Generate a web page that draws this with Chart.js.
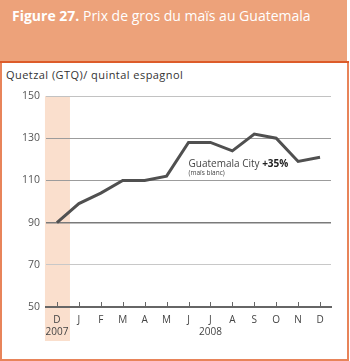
<!DOCTYPE html>
<html>
<head>
<meta charset="utf-8">
<script src="https://cdn.jsdelivr.net/npm/chart.js@4"></script>
<style>
  html, body { margin: 0; padding: 0; background: #fff; }
  #wrap { position: relative; width: 350px; height: 361px; overflow: hidden; font-family: 'Open Sans', sans-serif; }
  #header { position: absolute; left: 0; top: 0; width: 347px; height: 61px; background: #EDA27A; }
  #title { position: absolute; left: 12px; top: 6px; color: #fff; font-size: 14px; white-space: nowrap; }
  #title b { font-weight: 700; }
  #topline { position: absolute; left: 0; top: 61px; width: 349px; height: 2px; background: #DD5C2A; }
  #box { position: absolute; left: 0; top: 63px; width: 345px; height: 296px; border: 2px solid #E8845A; border-top: none; }
  #ytitle { position: absolute; left: 6px; top: 67px; color: #333; font-size: 11px; letter-spacing: 0.45px; white-space: nowrap; }
  canvas { position: absolute; left: 0; top: 0; }
</style>
</head>
<body>
<div id="wrap">
  <div id="header"></div>
  <div id="title"><b>Figure 27.</b> Prix de gros du maïs au Guatemala</div>
  <div id="topline"></div>
  <div id="box"></div>
  <div id="ytitle">Quetzal (GTQ)/ quintal espagnol</div>
  <canvas id="c" width="350" height="361"></canvas>
</div>
<script>
const months = ['D', 'J', 'F', 'M', 'A', 'M', 'J', 'J', 'A', 'S', 'O', 'N', 'D'];
const years = ['2007', '', '', '', '', '', '', '2008', '', '', '', '', ''];
const prices = [90, 99, 104, 110, 110, 112, 128, 128, 124, 132, 130, 119, 121];
const yTicks = [50, 70, 90, 110, 130, 150];
const seriesName = 'Guatemala City';
const seriesChange = '+35%';
const seriesNote = '(maïs blanc)';

const labels = months.map((m, i) => years[i] ? [m, years[i]] : m);

const gridColors = { 150: '#c2c2c2', 130: '#9c9c9c', 110: '#9c9c9c', 90: '#7a7a7a', 70: '#c8c8c8', 50: 'rgba(0,0,0,0)' };
const gridWidths = { 90: 1.5 };

const decor = {
  id: 'decor',
  beforeDraw(chart) {
    const ctx = chart.ctx, x = chart.scales.x, a = chart.chartArea;
    const cx = x.getPixelForValue(0);
    ctx.save();
    ctx.fillStyle = '#FADFCD';
    ctx.fillRect(cx - 12, a.top, 25, 341 - a.top);
    ctx.restore();
  },
  afterDraw(chart) {
    const ctx = chart.ctx, x = chart.scales.x, y = chart.scales.y, a = chart.chartArea;
    ctx.save();
    // upward tick marks
    ctx.strokeStyle = '#666';
    ctx.lineWidth = 1;
    for (let i = 0; i < months.length; i++) {
      const px = Math.round(x.getPixelForTick(i)) + 0.5;
      ctx.beginPath();
      ctx.moveTo(px, a.bottom - 5);
      ctx.lineTo(px, a.bottom);
      ctx.stroke();
    }
    // annotation
    const ax = x.getPixelForValue(6);
    const ay = y.getPixelForValue(116.3);
    ctx.fillStyle = '#444';
    ctx.textBaseline = 'alphabetic';
    ctx.font = '10px "Open Sans"';
    ctx.fillText(seriesName + ' ', ax, ay);
    const w = ctx.measureText(seriesName + ' ').width;
    ctx.fillStyle = '#222';
    ctx.font = 'bold 10px "Open Sans"';
    ctx.fillText(seriesChange, ax + w, ay);
    ctx.fillStyle = '#444';
    ctx.font = '6.5px "Open Sans"';
    ctx.fillText(seriesNote, ax, ay + 8);
    ctx.restore();
  }
};

new Chart(document.getElementById('c'), {
  type: 'line',
  data: {
    labels: labels,
    datasets: [{
      data: prices,
      borderColor: '#505050',
      borderWidth: 3,
      pointRadius: 0,
      tension: 0,
      borderJoinStyle: 'miter',
      borderCapStyle: 'butt'
    }]
  },
  options: {
    responsive: false,
    animation: false,
    events: [],
    layout: { padding: { left: 0, right: 19, top: 96, bottom: 0 } },
    plugins: { legend: { display: false }, tooltip: { enabled: false } },
    scales: {
      x: {
        offset: true,
        afterFit(s) { s.height = 54; },
        grid: { display: false, drawTicks: false },
        border: { display: true, color: '#666', width: 2 },
        ticks: {
          padding: 7,
          color: '#444',
          font: { family: 'Open Sans', size: 10, lineHeight: 1.2 },
          maxRotation: 0,
          autoSkip: false
        }
      },
      y: {
        min: 50, max: 150,
        afterFit(s) { s.width = 46; },
        afterBuildTicks(s) { s.ticks = yTicks.map(v => ({ value: v })); },
        border: { display: false },
        grid: {
          drawTicks: false,
          color: c => gridColors[c.tick.value] || '#aaa',
          lineWidth: c => gridWidths[c.tick.value] || 1
        },
        ticks: {
          padding: 6,
          color: '#555',
          font: { family: 'Open Sans', size: 10.5 }
        }
      }
    }
  },
  plugins: [decor]
});
</script>
</body>
</html>
